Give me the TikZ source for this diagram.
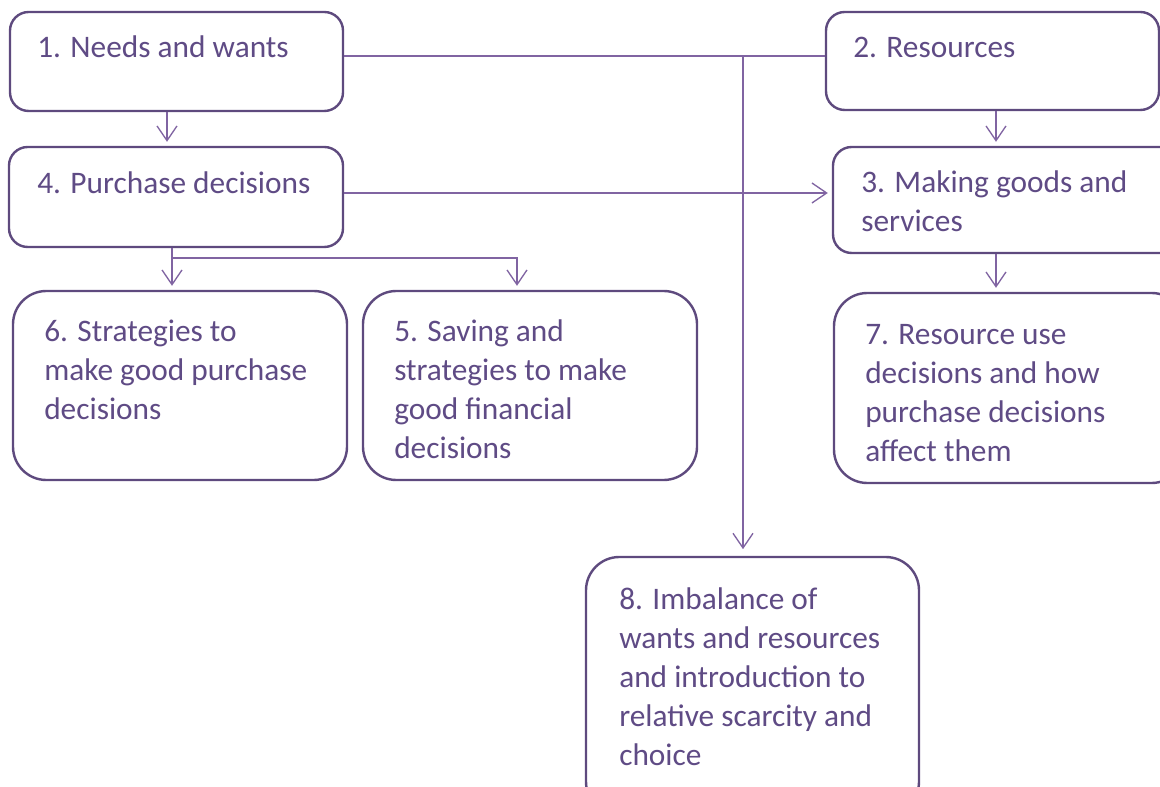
\documentclass[tikz,border=0pt]{standalone}
\usepackage{fontspec}
\setmainfont{Carlito}
\usetikzlibrary{arrows.meta,calc,fit}
\definecolor{boxc}{HTML}{5E4A7E}
\definecolor{linec}{HTML}{8064A2}
\definecolor{txtc}{HTML}{5F4B85}
\begin{document}
\begin{tikzpicture}[x=0.75pt,y=-0.75pt,
  boxs/.style={draw=boxc, line width=1.8pt, rounded corners=14pt, inner sep=0pt, fill=white},
  boxb/.style={draw=boxc, line width=1.8pt, rounded corners=25pt, inner sep=0pt, fill=white},
  lbl/.style={anchor=base west, inner sep=0pt, text=txtc, align=left,
    font=\fontsize{23.5}{29.25}\selectfont},
  conn/.style={draw=linec, line width=1pt},
  arr/.style={conn, shorten >=3pt, -{Straight Barb[length=11pt,width=15pt,line width=1pt]}}]
\useasboundingbox (0,0) rectangle (1160,787);
\clip (0,0) rectangle (1160,787);
% boxes
\node[boxs, fit={(10,12) (343,111)}] (n1) {};
\node[boxs, fit={(826,12) (1159,110)}] (n2) {};
\node[boxs, fit={(9,147) (343,247)}] (n4) {};
\node[boxs, fit={(833,147) (1185,253)}] (n3) {};
\node[boxb, fit={(13,291) (347,480)}] (n6) {};
\node[boxb, fit={(363,291) (697,480)}] (n5) {};
\node[boxb, fit={(834,293) (1185,483)}] (n7) {};
\node[boxb, fit={(586,557) (919,815)}] (n8) {};
% texts (anchor = baseline of the last line)
\node[lbl] (t1) at (37,58) {1. Needs and wants};
\node[lbl] (t2) at (853,58) {2. Resources};
\node[lbl] (t4) at (37,194) {4. Purchase decisions};
\node[lbl] (t3) at (861,232) {3. Making goods and\\services};
\node[lbl] (t6) at (44,420) {6. Strategies to\\make good purchase\\decisions};
\node[lbl] (t5) at (394,459) {5. Saving and\\strategies to make\\good financial\\decisions};
\node[lbl] (t7) at (865,462) {7. Resource use\\decisions and how\\purchase decisions\\affect them};
\node[lbl] (t8) at (619,765) {8. Imbalance of\\wants and resources\\and introduction to\\relative scarcity and\\choice};
% helper coordinates
\coordinate (j1) at (743,56);
\coordinate (y193) at (0,193);
\coordinate (y258) at (0,258);
\coordinate (x167) at (167,0);
\coordinate (x172) at (172,0);
\coordinate (x517) at (517,0);
\coordinate (x996) at (996,0);
% connectors
\draw[conn] (n1.east |- j1) -- (n2.west |- j1);
\draw[arr, shorten >=5pt] (j1) -- (j1 |- n8.north);
\draw[arr] (x167 |- n1.south) -- (x167 |- n4.north);
\draw[arr] (x996 |- n2.south) -- (x996 |- n3.north);
\draw[arr] (x996 |- n3.south) -- (x996 |- n7.north);
\draw[arr] (n4.east |- y193) -- (n3.west |- y193);
\draw[arr] (x172 |- n4.south) -- (x172 |- n6.north);
\draw[arr] (x172 |- y258) -- (x517 |- y258) -- (x517 |- n5.north);
\end{tikzpicture}
\end{document}
